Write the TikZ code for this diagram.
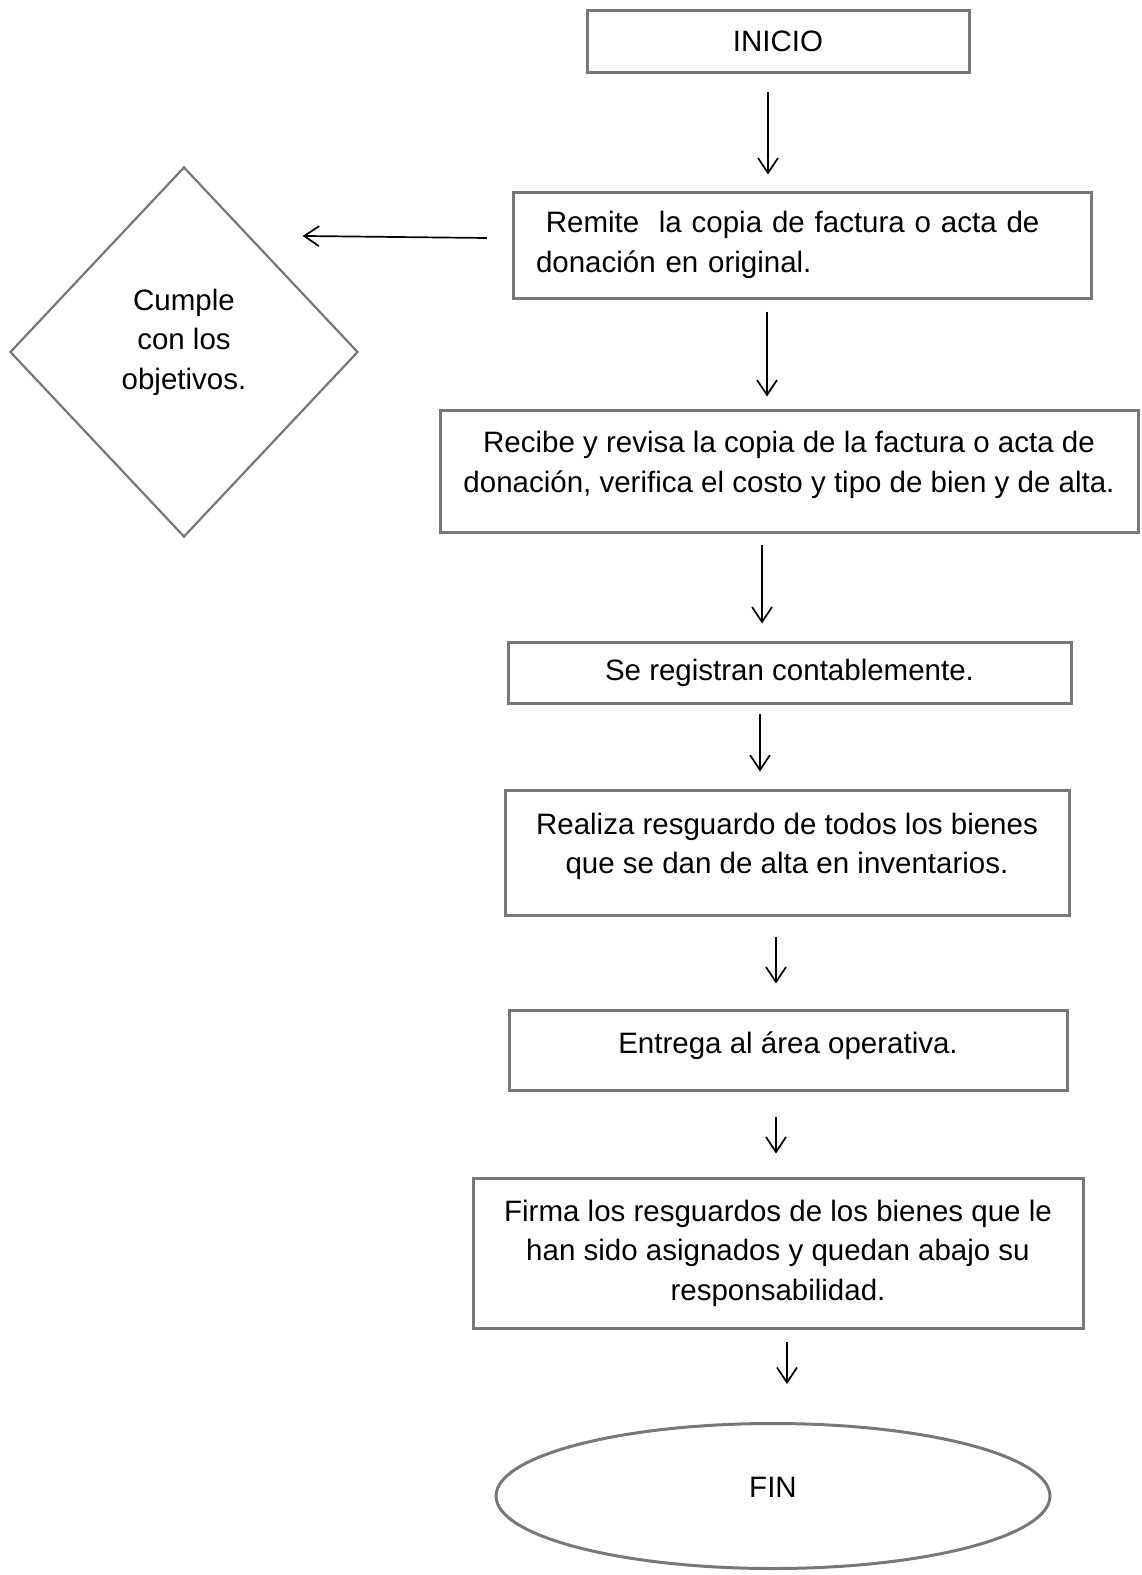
\documentclass[tikz,border=0pt]{standalone}
\usepackage{fontspec}
\setmainfont{Liberation Sans}
\usetikzlibrary{shapes.geometric,arrows.meta,calc}
\definecolor{boxgray}{RGB}{120,120,120}
\tikzset{
    procbox/.style={draw=boxgray, line width=3pt, rectangle, align=center, inner sep=0pt},
    finbox/.style={draw=boxgray, line width=3pt, ellipse, inner sep=0pt},
    decision/.style={draw=boxgray, line width=2.2pt, diamond, align=center, inner sep=0pt},
    flecha/.style={-{Straight Barb[length=15pt,width=20pt]}, line width=1.7pt, black},
}
\begin{document}
\begin{tikzpicture}[x=1pt,y=1pt,yscale=-1,xscale=1,font=\fontsize{29.5}{39.5}\selectfont]
    \useasboundingbox (0,0) rectangle (1142,1575);
    %Cajas del proceso
    \node[procbox, minimum width=382pt, minimum height=62pt] (inicio) at (778,41) {INICIO};
    \node[procbox, align=left, text width=532pt, minimum width=578pt, minimum height=106pt] (remite) at (802,245)
        {\ Remite\ \ la copia de factura o acta de\\donación en original.};
    \node[procbox, text depth=18pt, minimum width=698pt, minimum height=122pt] (recibe) at (789,471)
        {Recibe y revisa la copia de la factura o acta de\\donación, verifica el costo y tipo de bien y de alta.};
    \node[procbox, minimum width=563pt, minimum height=61pt] (registra) at (789.5,672.5) {Se registran contablemente.};
    \node[procbox, text depth=18pt, minimum width=564pt, minimum height=125pt] (realiza) at (787,852.5)
        {Realiza resguardo de todos los bienes\\que se dan de alta en inventarios.};
    \node[procbox, text depth=14pt, minimum width=558pt, minimum height=80pt] (entrega) at (788,1050) {Entrega al área operativa.};
    \node[procbox, minimum width=610pt, minimum height=150pt] (firma) at (778,1253)
        {Firma los resguardos de los bienes que le\\han sido asignados y quedan abajo su\\responsabilidad.};
    \node[finbox, text depth=18pt, minimum width=554pt, minimum height=145pt] (fin) at (773,1496) {FIN};
    %Rombo
    \node[decision, text depth=26pt, minimum width=348pt, minimum height=370pt] (cumple) at (184,352)
        {Cumple\\con los\\objetivos.};
    %Flechas
    \draw[flecha] ($(inicio.south)+(-10,18)$) -- ($(remite.north)+(-34,-16)$);
    \draw[flecha] ($(remite.south)+(-35,12)$) -- ($(recibe.north)+(-22,-12)$);
    \draw[flecha] ($(recibe.south)+(-27,11)$) -- ($(registra.north)+(-27.5,-17)$);
    \draw[flecha] ($(registra.south)+(-29.5,9)$) -- ($(realiza.north)+(-27,-17)$);
    \draw[flecha] ($(realiza.south)+(-11,20)$) -- ($(entrega.north)+(-12,-25)$);
    \draw[flecha] ($(entrega.south)+(-12,25)$) -- ($(firma.north)+(-2,-23)$);
    \draw[flecha] ($(firma.south)+(9,12)$) -- ($(fin.north)+(14,-38)$);
    \draw[flecha] ($(remite.west)+(-24.6,-7)$) -- ($(cumple.north east)+(31,-23)$);
\end{tikzpicture}
\end{document}
